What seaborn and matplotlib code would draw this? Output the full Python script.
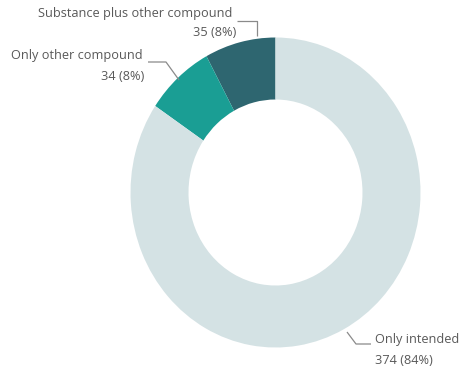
import numpy as np
import matplotlib
matplotlib.use("Agg")
import matplotlib.pyplot as plt
import seaborn as sns

# Composition of detected compounds
categories = ["Substance plus other compound", "Only other compound", "Only intended"]
counts = [35, 34, 374]
percents = ["8%", "8%", "84%"]
colors = ["#2e6670", "#1a9e94", "#d4e2e4"]

sns.set_theme(style="white")
plt.rcParams["font.family"] = ["Open Sans", "DejaVu Sans"]

W, H = 461, 368
fig = plt.figure(figsize=(W / 100, H / 100), dpi=100)
ax = fig.add_axes([0, 0, 1, 1])

# donut centre and radii in pixels (slightly taller than wide)
cx, cy, rx, ry = 275.5, 192.5, 145.0, 155.0

def px(x, y):
    """Convert pixel position to data coordinates."""
    return (x - cx) / rx, (cy - y) / ry

wedges, _ = ax.pie(counts, colors=colors, startangle=90, counterclock=True,
                   radius=1.0, wedgeprops=dict(width=0.4, linewidth=0))
ax.set_aspect("auto")
x0, y0 = px(0, H)
x1, y1 = px(W, 0)
ax.set_xlim(x0, x1)
ax.set_ylim(y0, y1)
ax.axis("off")

text_color = "#595959"
line_color = "#8a8a8a"
fs = 9.2

# label layout: leader polyline (pixels), name position, value position, alignment
layout = [
    dict(line=[(237, 21), (257, 21), (257, 36)],
         name=(135, 13, "center"), value=(236, 33, "right")),
    dict(line=[(148, 62), (166, 62), (179, 80)],
         name=(77, 56, "center"), value=(144, 77, "right")),
    dict(line=[(347, 332), (356, 344), (371, 344)],
         name=(375, 339, "left"), value=(375, 360, "left")),
]

for cat, n, p, lay in zip(categories, counts, percents, layout):
    xs, ys = zip(*[px(x, y) for x, y in lay["line"]])
    ax.plot(xs, ys, color=line_color, lw=0.9, solid_capstyle="butt")
    nx, ny, nha = lay["name"]
    ax.text(*px(nx, ny), cat, ha=nha, va="center", fontsize=fs, color=text_color)
    vx, vy, vha = lay["value"]
    ax.text(*px(vx, vy), f"{n} ({p})", ha=vha, va="center", fontsize=fs, color=text_color)

fig.savefig("out.png", dpi=100, facecolor="white")
